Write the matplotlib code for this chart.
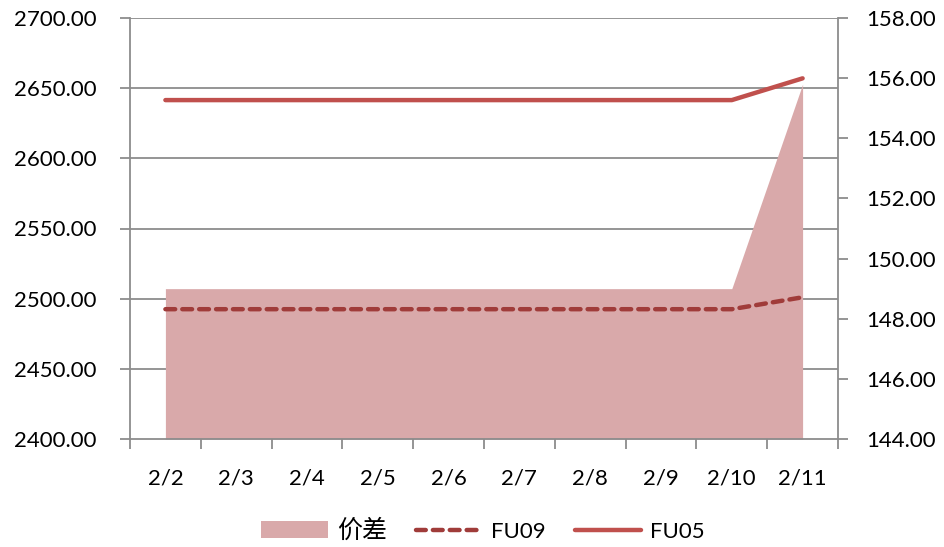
import numpy as np
import matplotlib
matplotlib.use("Agg")
import matplotlib.pyplot as plt
from matplotlib.patches import Patch
from matplotlib.lines import Line2D

# Data
dates = ["2/2", "2/3", "2/4", "2/5", "2/6", "2/7", "2/8", "2/9", "2/10", "2/11"]
fu05 = [2641.5, 2641.5, 2641.5, 2641.5, 2641.5, 2641.5, 2641.5, 2641.5, 2641.5, 2657.0]
fu09 = [2492.5, 2492.5, 2492.5, 2492.5, 2492.5, 2492.5, 2492.5, 2492.5, 2492.5, 2501.0]
spread = [149.0, 149.0, 149.0, 149.0, 149.0, 149.0, 149.0, 149.0, 149.0, 155.8]

plt.rcParams['font.family'] = ['Lato', 'Noto Sans CJK SC', 'DejaVu Sans']

grid_col = '#8c8c8c'
fig = plt.figure(figsize=(9.44, 5.47), dpi=100)
ax = fig.add_axes([130 / 944, 1 - 439 / 547, 708 / 944, 421 / 547])
ax2 = ax.twinx()

x = np.arange(len(dates))

# spread area on right axis
ax2.fill_between(x, 144, spread, color='#d9a9aa', linewidth=0, zorder=1)
ax2.set_ylim(144, 158)
ax2.set_yticks(np.arange(144, 158.1, 2))
ax2.set_yticklabels([f'{v:.2f}' for v in np.arange(144, 158.1, 2)])

# price lines on top of the area
ax.set_zorder(ax2.get_zorder() + 1)
ax.patch.set_visible(False)
ax.plot(x, fu09, color='#a03c3a', lw=3.2, ls=(0, (2.2, 1.6)), dash_capstyle='round', solid_capstyle='round', zorder=3)
ax.plot(x, fu05, color='#c0504d', lw=3.2, solid_capstyle='round', zorder=3)
ax.set_ylim(2400, 2700)
ax.set_yticks(np.arange(2400, 2701, 50))
ax.set_yticklabels([f'{v:.2f}' for v in np.arange(2400, 2701, 50)])
ax.set_xlim(-0.5, len(dates) - 0.5)
ax.set_xticks(x)
ax.set_xticklabels(dates)
ax.set_xticks(np.arange(-0.5, len(dates), 1), minor=True)

# gridlines drawn on the area axes so they sit behind the fill
for v in np.arange(2450, 2701, 50):
    ax2.axhline(144 + (v - 2400) / 300 * 14, color=grid_col, lw=1.3, zorder=0)

for a in (ax, ax2):
    for s in a.spines.values():
        s.set_visible(False)
for a, side in ((ax, 'left'), (ax, 'bottom'), (ax2, 'right')):
    a.spines[side].set_visible(True)
    a.spines[side].set_color(grid_col)
    a.spines[side].set_linewidth(1.3)

ax.tick_params(axis='y', length=7, width=1.3, color=grid_col, labelsize=16, pad=17)
ax.tick_params(axis='x', which='major', length=0, labelsize=16, pad=21)
ax.tick_params(axis='x', which='minor', length=7, width=1.3, color=grid_col)
ax2.tick_params(axis='y', length=7, width=1.3, color=grid_col, labelsize=16, pad=13)

handles = [
    Patch(facecolor='#d9a9aa', edgecolor='none'),
    Line2D([0], [0], color='#a03c3a', lw=3.2, ls=(0, (2.2, 1.6)), dash_capstyle='round'),
    Line2D([0], [0], color='#c0504d', lw=3.2, solid_capstyle='round'),
]
leg = fig.legend(handles, ['价差', 'FU09', 'FU05'], loc='center', bbox_to_anchor=(483 / 944, 1 - 530 / 547),
                 ncol=3, frameon=False, fontsize=16, handlelength=3.0, handleheight=0.8,
                 columnspacing=1.3, handletextpad=0.4)
leg.get_texts()[0].set_fontsize(18)

fig.savefig('out.png', dpi=100)
